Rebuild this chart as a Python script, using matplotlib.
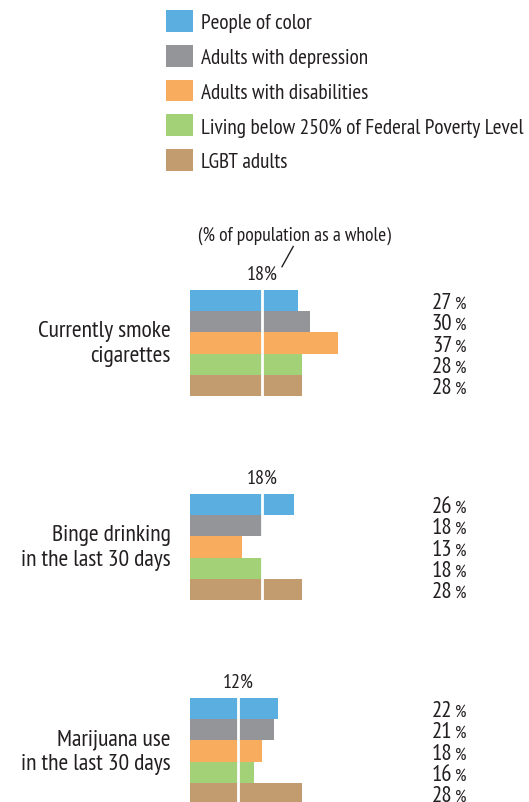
import matplotlib.pyplot as plt
from matplotlib.patches import Patch

W, H = 529, 803

# Daten
series = ["People of color", "Adults with depression", "Adults with disabilities",
          "Living below 250% of Federal Poverty Level", "LGBT adults"]
colors = ["#5aaee0", "#939598", "#f8ac5e", "#a3d177", "#c29b6e"]
behaviours = ["Currently smoke\ncigarettes", "Binge drinking\nin the last 30 days",
              "Marijuana use\nin the last 30 days"]
values = [
    [27, 30, 37, 28, 28],
    [26, 18, 13, 18, 28],
    [22, 21, 18, 16, 28],
]
population = [18, 18, 12]

plt.rcParams["font.family"] = ["PT Sans Narrow", "DejaVu Sans"]
txt_col = "#231f20"

fig = plt.figure(figsize=(W / 100, H / 100), dpi=100)

def fx(px):
    return px / W

def fy(py):
    return 1 - py / H

# Gruppen
x0 = 190       # linke Kante der Balken
scale = 4.0    # px je Prozent
grp_h = 106
tops = [291, 495, 699]
xmax = (W - x0) / scale

for g in range(3):
    top = tops[g]
    ax = fig.add_axes([fx(x0), fy(top + grp_h), fx(W - x0), grp_h / H])
    ax.set_xlim(0, xmax)
    ax.set_ylim(4.5, -0.5)
    ax.axis("off")
    ax.barh(range(5), values[g], height=1.0, color=colors, linewidth=0)
    ax.plot([population[g]] * 2, [-0.5, 4.5], color="white", lw=2, clip_on=False)
    for i, v in enumerate(values[g]):
        ax.text(65.6, i + 0.1, f"{v}", ha="right", va="center", fontsize=16.5, color=txt_col,
                clip_on=False)
        ax.text(66.2, i + 0.16, "%", ha="left", va="center", fontsize=13, color=txt_col,
                clip_on=False)
    ax.text(population[g], -0.85, f"{population[g]}%", ha="center", va="bottom",
            fontsize=14.5, color=txt_col, clip_on=False)
    ax.text(-4.8, 2.0, behaviours[g], ha="right", va="center", fontsize=17,
            color=txt_col, linespacing=1.22, clip_on=False)
    if g == 0:
        ax.text(26, -3.1, "(% of population as a whole)", ha="center", va="center",
                fontsize=14, color=txt_col, clip_on=False)
        ax.plot([25.8, 23.0], [-2.55, -1.6], color=txt_col, lw=1, clip_on=False)

# Legende
handles = [Patch(facecolor=c, edgecolor="none") for c in colors]
fig.legend(handles, series, loc="upper left", bbox_to_anchor=(fx(166), fy(11)),
           frameon=False, fontsize=15.3, handlelength=1.25, handleheight=1.2,
           handletextpad=0.38, labelspacing=0.6, borderaxespad=0, borderpad=0,
           labelcolor=txt_col)

fig.savefig("out.png", dpi=100)
